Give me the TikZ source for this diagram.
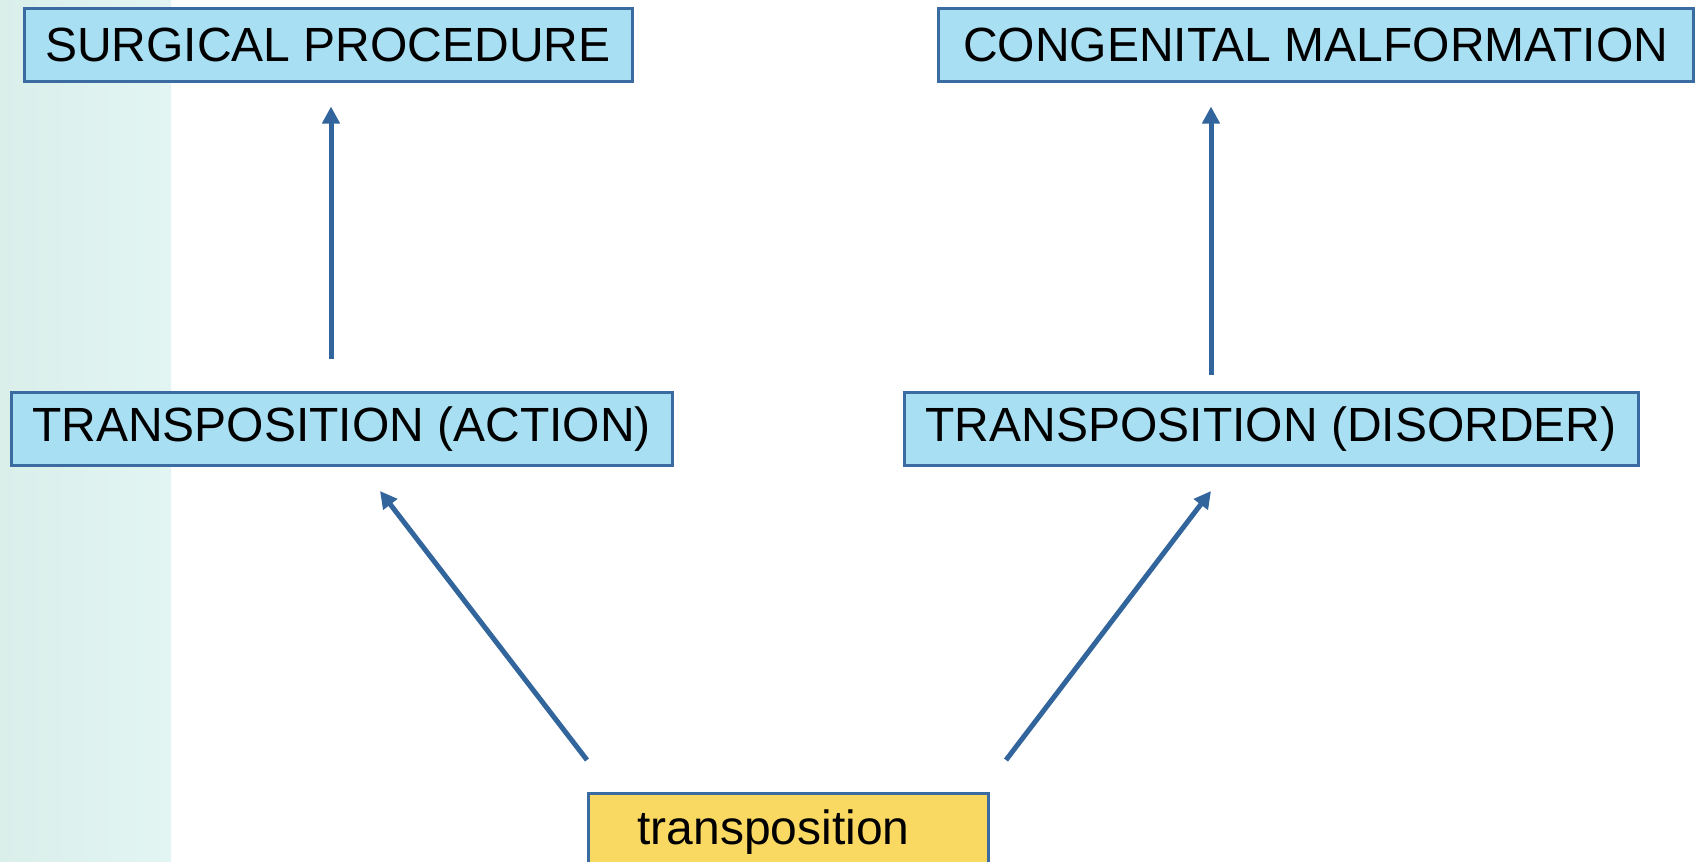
\documentclass[tikz,border=0pt]{standalone}
\usepackage{fontspec}
\setmainfont{Liberation Sans}
\usetikzlibrary{arrows.meta}
\definecolor{boxfill}{RGB}{169,223,242}
\definecolor{boxline}{RGB}{58,108,162}
\definecolor{arrowcol}{RGB}{50,101,155}
\definecolor{yelfill}{RGB}{250,217,98}
\definecolor{stripL}{RGB}{218,238,234}
\definecolor{stripR}{RGB}{226,245,243}
\tikzset{
  bluebox/.style={draw=boxline, line width=3pt, fill=boxfill, inner sep=0pt,
    minimum height=73pt, font=\fontsize{48pt}{58pt}\selectfont},
  yelbox/.style={draw=boxline, line width=3pt, fill=yelfill, inner sep=0pt,
    minimum height=78pt, font=\fontsize{48pt}{58pt}\selectfont},
  arr/.style={draw=arrowcol, line width=5pt, -{Triangle[width=17pt,length=17pt]}}
}
\begin{document}
\begin{tikzpicture}[x=1pt,y=-1pt]
\clip (0,0) rectangle (1695,862);
\fill[white] (0,0) rectangle (1695,862);
\shade[left color=stripL, right color=stripR] (0,0) rectangle (171,862);
\node[bluebox, minimum width=608pt] (sp) at (328,44.5) {SURGICAL PROCEDURE};
\node[bluebox, minimum width=755pt] (cm) at (1315.5,44.5) {CONGENITAL MALFORMATION};
\node[bluebox, minimum width=661pt] (ta) at (341.5,429) {TRANSPOSITION (ACTION)};
\node[bluebox, minimum width=734pt] (td) at (1271,429) {TRANSPOSITION (DISORDER)};
\node[yelbox, minimum width=400pt, anchor=north west] (tr) at (587,792) {transposition\hspace*{30pt}};
\draw[arr] ([xshift=-10.5pt,yshift=32pt]ta.north) -- ([xshift=3pt,yshift=-24pt]sp.south);
\draw[arr] ([xshift=-60pt,yshift=16pt]td.north) -- ([xshift=-104.5pt,yshift=-24pt]cm.south);
\draw[arr] ([yshift=32pt]tr.north west) -- ([xshift=38.5pt,yshift=-24pt]ta.south);
\draw[arr] ([xshift=16pt,yshift=32pt]tr.north east) -- ([xshift=-60pt,yshift=-24pt]td.south);
\end{tikzpicture}
\end{document}
